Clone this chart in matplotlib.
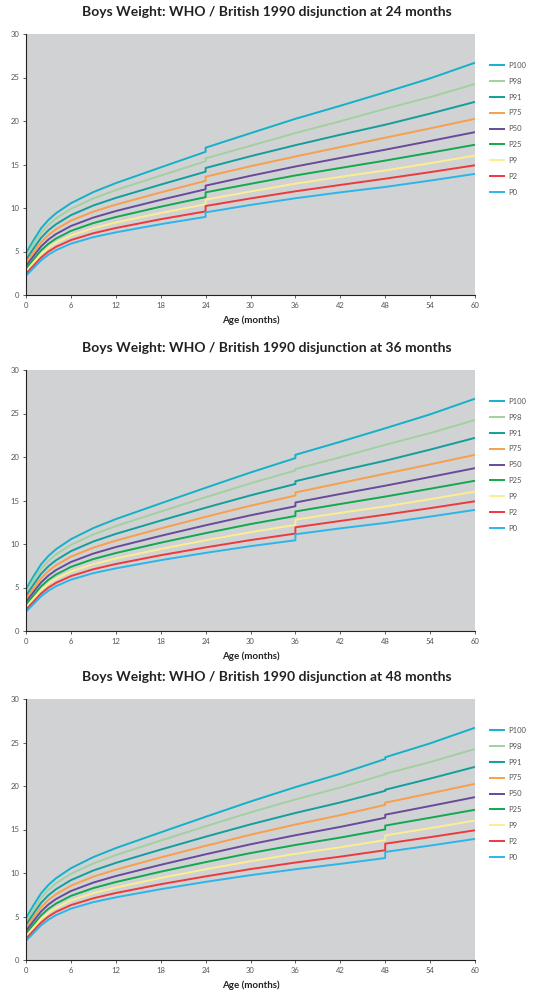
import numpy as np
import matplotlib
matplotlib.use('Agg')
import matplotlib.pyplot as plt

plt.rcParams['font.family'] = ['Lato', 'DejaVu Sans']

# --- centile names / colours ---
centiles = ['P100', 'P98', 'P91', 'P75', 'P50', 'P25', 'P9', 'P2', 'P0']
colors = ['#13b1c9', '#a3d0a0', '#139e9b', '#f89f4b', '#694a9a',
          '#12a84f', '#fcee90', '#ec3a3c', '#2cb5ea']

# --- WHO weight (kg), boys, by age in months ---
who_ages = [0, 1, 2, 3, 4, 6, 9, 12, 18, 24, 30, 36, 42, 48]
who_p100 = [4.80, 6.29, 7.65, 8.63, 9.39, 10.55, 11.83, 12.86, 14.67, 16.46, 18.22, 19.87, 21.40, 23.10]
who_p98 = [4.45, 5.84, 7.14, 8.07, 8.80, 9.90, 11.10, 12.06, 13.73, 15.37, 16.97, 18.45, 19.83, 21.34]
who_p91 = [4.04, 5.33, 6.56, 7.45, 8.13, 9.18, 10.29, 11.16, 12.69, 14.17, 15.59, 16.90, 18.11, 19.44]
who_p75 = [3.69, 4.89, 6.05, 6.90, 7.55, 8.54, 9.58, 10.38, 11.79, 13.12, 14.40, 15.57, 16.65, 17.83]
who_p50 = [3.35, 4.47, 5.57, 6.38, 7.00, 7.93, 8.90, 9.65, 10.94, 12.15, 13.30, 14.34, 15.30, 16.35]
who_p25 = [3.03, 4.08, 5.12, 5.89, 6.48, 7.37, 8.27, 8.96, 10.15, 11.25, 12.29, 13.22, 14.07, 15.01]
who_p9 = [2.73, 3.72, 4.70, 5.44, 6.00, 6.84, 7.69, 8.33, 9.43, 10.43, 11.36, 12.20, 12.96, 13.79]
who_p2 = [2.44, 3.37, 4.29, 4.99, 5.53, 6.31, 7.10, 7.70, 8.71, 9.61, 10.45, 11.20, 11.88, 12.62]
who_p0 = [2.21, 3.09, 3.97, 4.63, 5.15, 5.90, 6.65, 7.20, 8.14, 8.98, 9.75, 10.43, 11.05, 11.72]

# --- British 1990 weight (kg), boys ---
uk_ages = [24, 30, 36, 42, 48, 54, 60]
uk_p100 = [16.93, 18.60, 20.25, 21.75, 23.30, 24.90, 26.70]
uk_p98 = [15.71, 17.15, 18.62, 19.97, 21.40, 22.75, 24.25]
uk_p91 = [14.60, 15.95, 17.22, 18.42, 19.57, 20.85, 22.20]
uk_p75 = [13.60, 14.80, 15.92, 17.00, 18.08, 19.15, 20.25]
uk_p50 = [12.57, 13.70, 14.77, 15.75, 16.70, 17.70, 18.72]
uk_p25 = [11.80, 12.78, 13.74, 14.60, 15.45, 16.35, 17.27]
uk_p9 = [10.95, 11.90, 12.80, 13.58, 14.32, 15.15, 16.03]
uk_p2 = [10.23, 11.10, 11.92, 12.65, 13.37, 14.12, 14.91]
uk_p0 = [9.50, 10.35, 11.12, 11.80, 12.42, 13.15, 13.92]

who_series = [who_p100, who_p98, who_p91, who_p75, who_p50, who_p25, who_p9, who_p2, who_p0]
uk_series = [uk_p100, uk_p98, uk_p91, uk_p75, uk_p50, uk_p25, uk_p9, uk_p2, uk_p0]

disjunctions = [24, 36, 48]

W, H = 533, 1002
fig = plt.figure(figsize=(W / 100, H / 100), dpi=100)

# axes top/bottom in pixels for each panel
panel_px = [(34, 295), (370, 631), (699, 960)]
left_px, right_px = 26, 475

grey = '#555555'

for d, (top, bot) in zip(disjunctions, panel_px):
    ax = fig.add_axes([left_px / W, 1 - bot / H, (right_px - left_px) / W, (bot - top) / H])
    ax.set_facecolor('#d1d2d4')

    wa = np.array(who_ages)
    ua = np.array(uk_ages)
    for name, col, wv, uv in zip(centiles, colors, who_series, uk_series):
        wv = np.array(wv)
        uv = np.array(uv)
        x = np.concatenate([wa[wa <= d], ua[ua >= d]])
        y = np.concatenate([wv[wa <= d], uv[ua >= d]])
        ax.plot(x, y, color=col, lw=1.4, label=name, solid_capstyle='butt')

    ax.set_xlim(0, 60)
    ax.set_ylim(0, 30)
    ax.set_xticks(range(0, 61, 6))
    ax.set_yticks(range(0, 31, 5))
    for s in ['top', 'right']:
        ax.spines[s].set_visible(False)
    for s in ['left', 'bottom']:
        ax.spines[s].set_color('#222222')
        ax.spines[s].set_linewidth(0.8)
    ax.tick_params(axis='both', labelsize=5.5, labelcolor=grey, color='#444444',
                   length=2.5, width=0.6, pad=2.5)
    ax.set_xlabel('Age (months)', fontsize=7, fontweight='bold', color='#222222', labelpad=5)

    ax.legend(loc='upper left', bbox_to_anchor=(1.025, 0.905), frameon=False,
              fontsize=5.5, labelcolor=grey, handlelength=2.0, handletextpad=0.5,
              labelspacing=1.16, borderaxespad=0)

    fig.text(0.5, 1 - (top - 22) / H,
             f'Boys Weight: WHO / British 1990 disjunction at {d} months',
             ha='center', va='center', fontsize=10, fontweight='bold', color='#222222')

fig.savefig('out.png', dpi=100)
